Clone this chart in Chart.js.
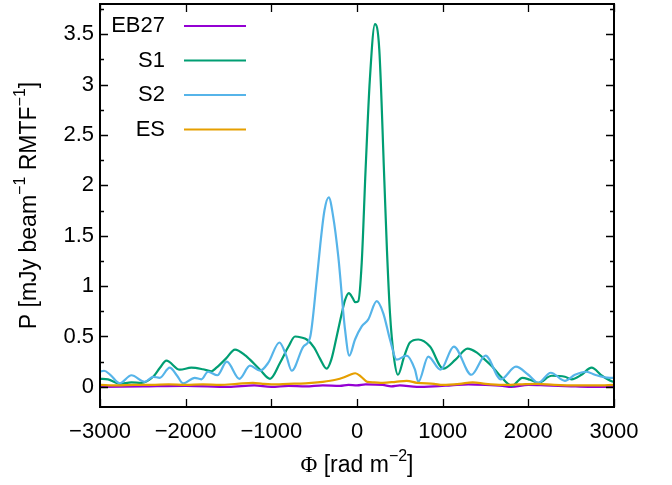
<!DOCTYPE html>
<html>
<head>
<meta charset="utf-8">
<script src="https://cdn.jsdelivr.net/npm/chart.js@4.4.1/dist/chart.umd.min.js"></script>
<style>
    html, body { margin: 0; padding: 0; background: #fff; }
    #wrap { width: 672px; height: 485px; }
</style>
</head>
<body>
<div id="wrap"><canvas id="chart" width="672" height="485"></canvas></div>
<script>
// Faraday spectra
const eb27Phi = [-3000,-2500,-2000,-1500,-1200,-1000,-800,-600,-400,-200,-100,0,100,300,400,500,700,900,1100,1300,1500,1700,1800,2000,2200,2500,2700,3000];
const eb27P = [0.0,0.005,0.01,0.0,0.015,0.0,0.01,0.005,0.015,0.01,0.02,0.015,0.025,0.02,0.005,0.015,0.0,0.005,0.015,0.025,0.02,0.01,0.0,0.02,0.015,0.005,0.0,0.0];

const s1Phi = [-3000,-2906,-2770,-2633,-2517,-2380,-2300,-2225,-2069,-1934,-1800,-1700,-1641,-1530,-1424,-1300,-1249,-1132,-1015,-898,-800,-723,-650,-587,-500,-432,-354,-300,-237,-180,-140,-95,-50,-20,15,55,100,150,210,260,319,350,385,430,478,550,618,716,852,1007,1150,1290,1400,1480,1580,1670,1810,1930,2020,2117,2272,2427,2505,2620,2738,2860,2972,3000];
const s1P = [0.08,0.075,0.03,0.045,0.04,0.10,0.19,0.26,0.17,0.19,0.175,0.155,0.19,0.28,0.37,0.31,0.27,0.17,0.08,0.24,0.40,0.50,0.49,0.47,0.39,0.28,0.18,0.27,0.50,0.72,0.86,0.93,0.88,0.84,0.85,1.23,2.15,3.05,3.60,3.35,2.05,1.35,0.73,0.30,0.12,0.30,0.44,0.47,0.40,0.18,0.27,0.38,0.34,0.28,0.20,0.11,0.01,0.09,0.07,0.04,0.11,0.10,0.075,0.12,0.19,0.11,0.055,0.05];

const s2Phi = [-3000,-2953,-2880,-2770,-2633,-2477,-2380,-2303,-2186,-2100,-2030,-1894,-1817,-1739,-1630,-1520,-1373,-1249,-1132,-1035,-906,-830,-762,-626,-548,-470,-430,-380,-330,-280,-218,-140,-90,-23,55,132,230,307,385,463,580,677,716,832,975,1130,1335,1500,1680,1855,2000,2117,2262,2427,2544,2680,2777,2952,3000];
const s2P = [0.15,0.16,0.12,0.035,0.115,0.05,0.10,0.09,0.19,0.11,0.035,0.09,0.075,0.15,0.115,0.25,0.08,0.21,0.16,0.24,0.44,0.32,0.16,0.40,0.49,1.06,1.40,1.75,1.88,1.70,1.29,0.57,0.31,0.47,0.60,0.67,0.85,0.73,0.47,0.27,0.31,0.17,0.05,0.30,0.17,0.40,0.12,0.31,0.075,0.20,0.12,0.04,0.14,0.06,0.12,0.15,0.12,0.09,0.09];

const esPhi = [-3000,-2800,-2600,-2400,-2200,-2000,-1800,-1600,-1400,-1215,-1100,-1000,-800,-600,-400,-250,-150,-80,-20,50,120,200,300,450,580,700,900,1000,1200,1350,1500,1700,1900,2100,2300,2600,2800,3000];
const esP = [0.02,0.015,0.02,0.02,0.025,0.02,0.025,0.02,0.03,0.04,0.03,0.025,0.03,0.035,0.05,0.07,0.095,0.12,0.135,0.10,0.05,0.045,0.04,0.05,0.06,0.04,0.03,0.02,0.03,0.045,0.03,0.02,0.025,0.03,0.02,0.015,0.015,0.02];

const seriesNames = ['EB27', 'S1', 'S2', 'ES'];
const seriesColors = ['#9400d3', '#009e73', '#56b4e9', '#e69f00'];
const xTicks = [-3000, -2000, -1000, 0, 1000, 2000, 3000];
const yTicks = [0, 0.5, 1, 1.5, 2, 2.5, 3, 3.5];
const yMinorTicks = [0.25, 0.75, 1.25, 1.75, 2.25, 2.75, 3.25, 3.75];

const SANS = '"Liberation Sans", Arial, Helvetica, sans-serif';
const SERIF = '"Liberation Serif", "DejaVu Serif", serif';

function toPoints(xs, ys) {
    return xs.map((x, i) => ({ x: x, y: ys[i] }));
}

function fmtTick(v) {
    return v < 0 ? '\u2212' + Math.abs(v) : String(v);
}

// draws a string made of pieces; sup pieces are smaller and raised
function drawRich(ctx, parts, cx, cy) {
    let total = 0;
    parts.forEach(p => {
        ctx.font = p.font;
        p.w = ctx.measureText(p.t).width;
        total += p.w;
    });
    let x = cx - total / 2;
    parts.forEach(p => {
        ctx.font = p.font;
        ctx.fillText(p.t, x, cy + (p.dy || 0));
        x += p.w;
    });
}

const framePlugin = {
    id: 'frame',
    afterDatasetsDraw(chart) {
        const ctx = chart.ctx;
        const a = chart.chartArea;
        const xs = chart.scales.x, ys = chart.scales.y;
        ctx.save();
        ctx.strokeStyle = '#000';
        ctx.lineWidth = 1.3;
        ctx.beginPath();
        xTicks.forEach(v => {
            const px = Math.round(xs.getPixelForValue(v)) + 0.5;
            ctx.moveTo(px, a.bottom); ctx.lineTo(px, a.bottom - 8);
            ctx.moveTo(px, a.top); ctx.lineTo(px, a.top + 8);
        });
        yTicks.forEach(v => {
            const py = Math.round(ys.getPixelForValue(v)) + 0.5;
            ctx.moveTo(a.left, py); ctx.lineTo(a.left + 8, py);
            ctx.moveTo(a.right, py); ctx.lineTo(a.right - 8, py);
        });
        yMinorTicks.forEach(v => {
            const py = Math.round(ys.getPixelForValue(v)) + 0.5;
            ctx.moveTo(a.left, py); ctx.lineTo(a.left + 4, py);
            ctx.moveTo(a.right, py); ctx.lineTo(a.right - 4, py);
        });
        ctx.stroke();
        ctx.lineWidth = 2;
        ctx.strokeRect(a.left, a.top, a.right - a.left, a.bottom - a.top);

        // legend, text right aligned before the line sample
        ctx.textBaseline = 'middle';
        chart.data.datasets.forEach((ds, i) => {
            const y = 26 + i * 34.5;
            ctx.font = '22px ' + SANS;
            ctx.fillStyle = '#000';
            ctx.textAlign = 'right';
            ctx.fillText(ds.label, 165, y);
            ctx.strokeStyle = ds.borderColor;
            ctx.lineWidth = 2;
            ctx.beginPath();
            ctx.moveTo(184, y); ctx.lineTo(246, y);
            ctx.stroke();
        });

        // axis titles
        ctx.fillStyle = '#000';
        ctx.textAlign = 'left';
        ctx.textBaseline = 'middle';
        const big = '23px ' + SANS, small = '16px ' + SANS;
        drawRich(ctx, [
            { t: '\u03A6', font: '23px ' + SERIF },
            { t: ' [rad m', font: big },
            { t: '\u22122', font: small, dy: -9 },
            { t: ']', font: big }
        ], (a.left + a.right) / 2, 466);

        ctx.translate(30, (a.top + a.bottom) / 2);
        ctx.rotate(-Math.PI / 2);
        drawRich(ctx, [
            { t: 'P [mJy beam', font: big },
            { t: '\u22121', font: small, dy: -9 },
            { t: ' RMTF', font: big },
            { t: '\u22121', font: small, dy: -9 },
            { t: ']', font: big }
        ], 0, 0);
        ctx.restore();
    }
};

const allPoints = [
    toPoints(eb27Phi, eb27P),
    toPoints(s1Phi, s1P),
    toPoints(s2Phi, s2P),
    toPoints(esPhi, esP)
];

const datasets = seriesNames.map((name, i) => ({
    label: name,
    data: allPoints[i],
    borderColor: seriesColors[i],
    backgroundColor: seriesColors[i],
    borderWidth: 2.2,
    pointRadius: 0,
    cubicInterpolationMode: 'monotone',
    order: seriesNames.length - i
}));

new Chart(document.getElementById('chart').getContext('2d'), {
    type: 'line',
    data: { datasets: datasets },
    options: {
        responsive: false,
        animation: false,
        layout: { padding: { left: 0, right: 58, top: 4, bottom: 0 } },
        plugins: { legend: { display: false }, tooltip: { enabled: false } },
        scales: {
            x: {
                type: 'linear',
                min: -3000,
                max: 3000,
                afterBuildTicks: s => { s.ticks = xTicks.map(v => ({ value: v })); },
                afterFit: s => { s.height = 78; s.paddingLeft = 0; s.paddingRight = 0; },
                grid: { display: false, drawTicks: false },
                border: { display: false },
                ticks: { color: '#000', padding: 12, font: { family: SANS, size: 22 }, callback: v => fmtTick(v), maxRotation: 0 }
            },
            y: {
                type: 'linear',
                min: -0.2,
                max: 3.8,
                afterBuildTicks: s => { s.ticks = yTicks.map(v => ({ value: v })); },
                afterFit: s => { s.width = 100; s.paddingTop = 0; s.paddingBottom = 0; },
                grid: { display: false, drawTicks: false },
                border: { display: false },
                ticks: { color: '#000', padding: 6, font: { family: SANS, size: 22 }, callback: v => String(v) }
            }
        }
    },
    plugins: [framePlugin]
});
</script>
</body>
</html>
